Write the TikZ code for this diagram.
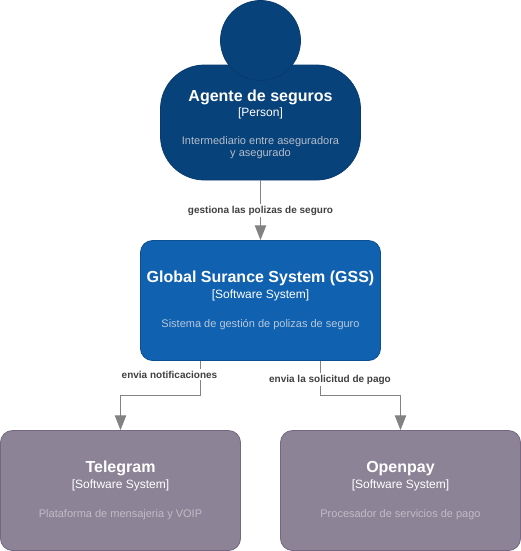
\documentclass[tikz,border=0pt]{standalone}
\usepackage{fontspec}
\setmainfont{Liberation Sans}
\usetikzlibrary{arrows.meta,calc}
\definecolor{personfill}{HTML}{08427B}
\definecolor{personline}{HTML}{073B6F}
\definecolor{sysfill}{HTML}{1061B0}
\definecolor{sysline}{HTML}{0D5091}
\definecolor{extfill}{HTML}{8C8496}
\definecolor{extline}{HTML}{736782}
\definecolor{linkgray}{HTML}{828282}
\definecolor{labelgray}{HTML}{404040}
\definecolor{persondesc}{HTML}{B3BDC9}
\definecolor{sysdesc}{HTML}{B8C8DC}
\definecolor{extdesc}{HTML}{C0BCC6}
\tikzset{
  x=0.75pt,y=-0.75pt,
  box/.style={draw,line width=0.6pt,minimum width=180pt,minimum height=90pt,inner sep=0pt,rounded corners=9pt},
  personbody/.style={draw=personline,fill=personfill,line width=0.6pt,minimum width=150pt,minimum height=86.25pt,inner sep=0pt,rounded corners=33pt},
  personhead/.style={circle,draw=personline,fill=personfill,line width=0.6pt,minimum size=60pt,inner sep=0pt},
  sysbox/.style={box,draw=sysline,fill=sysfill},
  extbox/.style={box,draw=extline,fill=extfill},
  titletext/.style={anchor=base,inner sep=0pt,text=white,font=\fontsize{12}{14}\selectfont\bfseries},
  typetext/.style={anchor=base,inner sep=0pt,text=white,font=\fontsize{9}{11}\selectfont},
  desctext/.style={anchor=base,inner sep=0pt,font=\fontsize{8.25}{10}\selectfont},
  linklabel/.style={anchor=base,fill=white,inner xsep=1pt,inner ysep=1.5pt,text=labelgray,font=\fontsize{7.5}{9}\selectfont\bfseries},
  link/.style={draw=linkgray,line width=0.75pt,-{Triangle[length=11pt,width=8.5pt,fill=linkgray]}}
}
\begin{document}
\begin{tikzpicture}
\useasboundingbox (0,0) rectangle (521,551);
\node[personbody] (agent) at (260.5,122.5) {};
\node[personhead] (head) at (260.5,40.5) {};
\node[sysbox] (gss) at (260.5,300.5) {};
\node[extbox] (tel) at (120.5,490.5) {};
\node[extbox] (open) at (400.5,490.5) {};
\coordinate (gssL) at ($(gss.south)+(-60,0)$);
\coordinate (gssR) at ($(gss.south)+(60,0)$);
\coordinate (telBend) at ($(gssL)+(0,35)$);
\coordinate (openBend) at ($(gssR)+(0,35)$);
\draw[link] (agent.south) -- (gss.north);
\draw[link] (gssL) -- (telBend) -| (tel.north);
\draw[link] (gssR) -- (openBend) -| (open.north);
\node[linklabel] (l1) at (260.5,213) {gestiona las polizas de seguro};
\node[linklabel] (l2) at (169.5,378) {envia notificaciones};
\node[linklabel] (l3) at (330,382) {envia la solicitud de pago};
\node[titletext] (t1) at (260.5,101) {Agente de seguros};
\node[typetext] (y1) at (260.5,116) {[Person]};
\node[desctext,text=persondesc] (d1) at (260.5,144) {Intermediario entre aseguradora};
\node[desctext,text=persondesc] (d1b) at (260.5,156) {y asegurado};
\node[titletext] (t2) at (260.5,282) {Global Surance System (GSS)};
\node[typetext] (y2) at (260.5,298) {[Software System]};
\node[desctext,text=sysdesc] (d2) at (260.5,327) {Sistema de gestión de polizas de seguro};
\node[titletext] (t3) at (120.5,472) {Telegram};
\node[typetext] (y3) at (120.5,488) {[Software System]};
\node[desctext,text=extdesc] (d3) at (120.5,517) {Plataforma de mensajeria y VOIP};
\node[titletext] (t4) at (400.5,472) {Openpay};
\node[typetext] (y4) at (400.5,488) {[Software System]};
\node[desctext,text=extdesc] (d4) at (400.5,517) {Procesador de servicios de pago};
\end{tikzpicture}
\end{document}
